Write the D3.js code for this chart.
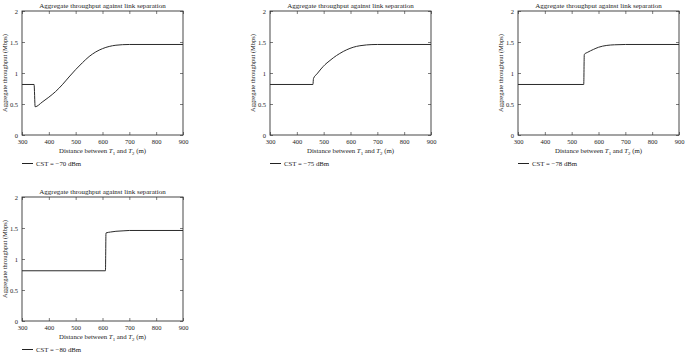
<!DOCTYPE html>
<html>
<head>
<meta charset="utf-8">
<script src="https://cdn.jsdelivr.net/npm/d3@7"></script>
<style>
  body { margin: 0; background: #fff; }
  svg text { font-family: "Liberation Serif", "DejaVu Serif", serif; fill: #222; }
</style>
</head>
<body>
<svg id="chart" width="685" height="353"></svg>
<script>
// values, one series per panel
var cstLabels = ['CST = \u221270 dBm', 'CST = \u221275 dBm', 'CST = \u221278 dBm', 'CST = \u221280 dBm'];

var dist70 = [300, 345, 349, 375, 400, 425, 450, 475, 500, 525, 550, 575, 600, 625, 650, 700, 900];
var thr70  = [0.815, 0.815, 0.455, 0.53, 0.61, 0.70, 0.81, 0.935, 1.055, 1.165, 1.265, 1.34, 1.393, 1.428, 1.448, 1.46, 1.46];

var dist75 = [300, 460, 462, 475, 490, 505, 520, 536, 560, 586, 610, 635, 660, 700, 900];
var thr75  = [0.815, 0.815, 0.91, 0.985, 1.065, 1.135, 1.19, 1.245, 1.315, 1.375, 1.415, 1.44, 1.453, 1.46, 1.46];

var dist78 = [300, 545, 547, 560, 581, 600, 631, 660, 700, 900];
var thr78  = [0.815, 0.815, 1.30, 1.335, 1.38, 1.415, 1.445, 1.455, 1.46, 1.46];

var dist80 = [300, 611, 613, 630, 650, 680, 700, 900];
var thr80  = [0.81, 0.81, 1.42, 1.435, 1.447, 1.455, 1.46, 1.46];

var xTicks = [300, 400, 500, 600, 700, 800, 900];
var yTicks = [0, 0.5, 1, 1.5, 2];

var titleText = 'Aggregate throughput against link separation';
var yLabelText = 'Aggregate throughput (Mbps)';

var Chart = {
	W: 161,
	H: 124,

	// top-left corner of each plot box
	panels: [
		{ left: 22,  top: 11,  xs: dist70, ys: thr70, label: cstLabels[0] },
		{ left: 270, top: 11,  xs: dist75, ys: thr75, label: cstLabels[1] },
		{ left: 518, top: 11,  xs: dist78, ys: thr78, label: cstLabels[2] },
		{ left: 22,  top: 197, xs: dist80, ys: thr80, label: cstLabels[3] }
	],

	drawPanel: function(svg, p) {
		var W = Chart.W, H = Chart.H;
		var x = d3.scaleLinear().domain([300, 900]).range([0, W]);
		var y = d3.scaleLinear().domain([0, 2]).range([H, 0]);
		var g = svg.append('g').attr('transform', 'translate(' + p.left + ',' + p.top + ')');

		// inward ticks on all four sides
		var tl = 3;
		g.append('g').attr('transform', 'translate(0,' + H + ')')
			.call(d3.axisBottom(x).tickValues(xTicks).tickSizeInner(-tl).tickSizeOuter(0).tickPadding(4));
		g.append('g')
			.call(d3.axisTop(x).tickValues(xTicks).tickSizeInner(-tl).tickSizeOuter(0).tickFormat(''));
		g.append('g')
			.call(d3.axisLeft(y).tickValues(yTicks).tickSizeInner(-tl).tickSizeOuter(0).tickPadding(4)
				.tickFormat(d3.format('~g')));
		g.append('g').attr('transform', 'translate(' + W + ',0)')
			.call(d3.axisRight(y).tickValues(yTicks).tickSizeInner(-tl).tickSizeOuter(0).tickFormat(''));

		g.selectAll('.domain').remove();
		g.selectAll('.tick line').attr('stroke', '#444').attr('stroke-width', 0.7);
		g.selectAll('.tick text').attr('font-size', 6.5).attr('fill', '#222')
			.style('font-family', '"Liberation Serif", serif');

		g.append('rect').attr('width', W).attr('height', H)
			.attr('fill', 'none').attr('stroke', '#333').attr('stroke-width', 0.9);

		var pts = p.xs.map(function(d, i) { return [d, p.ys[i]]; });
		var line = d3.line()
			.x(function(d) { return x(d[0]); })
			.y(function(d) { return y(d[1]); })
			.curve(d3.curveMonotoneX);
		g.append('path').datum(pts)
			.attr('d', line)
			.attr('fill', 'none').attr('stroke', '#2a2a2a').attr('stroke-width', 1);

		// title
		g.append('text').attr('x', W / 2).attr('y', -3.5)
			.attr('text-anchor', 'middle').attr('font-size', 7).text(titleText);

		// y label
		g.append('text').attr('transform', 'translate(-15.5,' + (H / 2) + ') rotate(-90)')
			.attr('text-anchor', 'middle').attr('font-size', 6.5).text(yLabelText);

		// x label with italic T and subscripts
		var xl = g.append('text').attr('x', W / 2).attr('y', H + 18)
			.attr('text-anchor', 'middle').attr('font-size', 6.8);
		xl.append('tspan').text('Distance between ');
		xl.append('tspan').attr('font-style', 'italic').text('T');
		xl.append('tspan').attr('font-size', 4.8).attr('dy', 1.5).text('1');
		xl.append('tspan').attr('dy', -1.5).text(' and ');
		xl.append('tspan').attr('font-style', 'italic').text('T');
		xl.append('tspan').attr('font-size', 4.8).attr('dy', 1.5).text('2');
		xl.append('tspan').attr('dy', -1.5).text(' (m)');

		// legend
		g.append('line').attr('x1', 0).attr('x2', 11).attr('y1', H + 28.5).attr('y2', H + 28.5)
			.attr('stroke', '#222').attr('stroke-width', 1);
		g.append('text').attr('x', 14).attr('y', H + 31).attr('font-size', 6.8).text(p.label);
	},

	render: function() {
		var svg = d3.select('#chart');
		Chart.panels.forEach(function(p) { Chart.drawPanel(svg, p); });
	}
};

Chart.render();
</script>
</body>
</html>
